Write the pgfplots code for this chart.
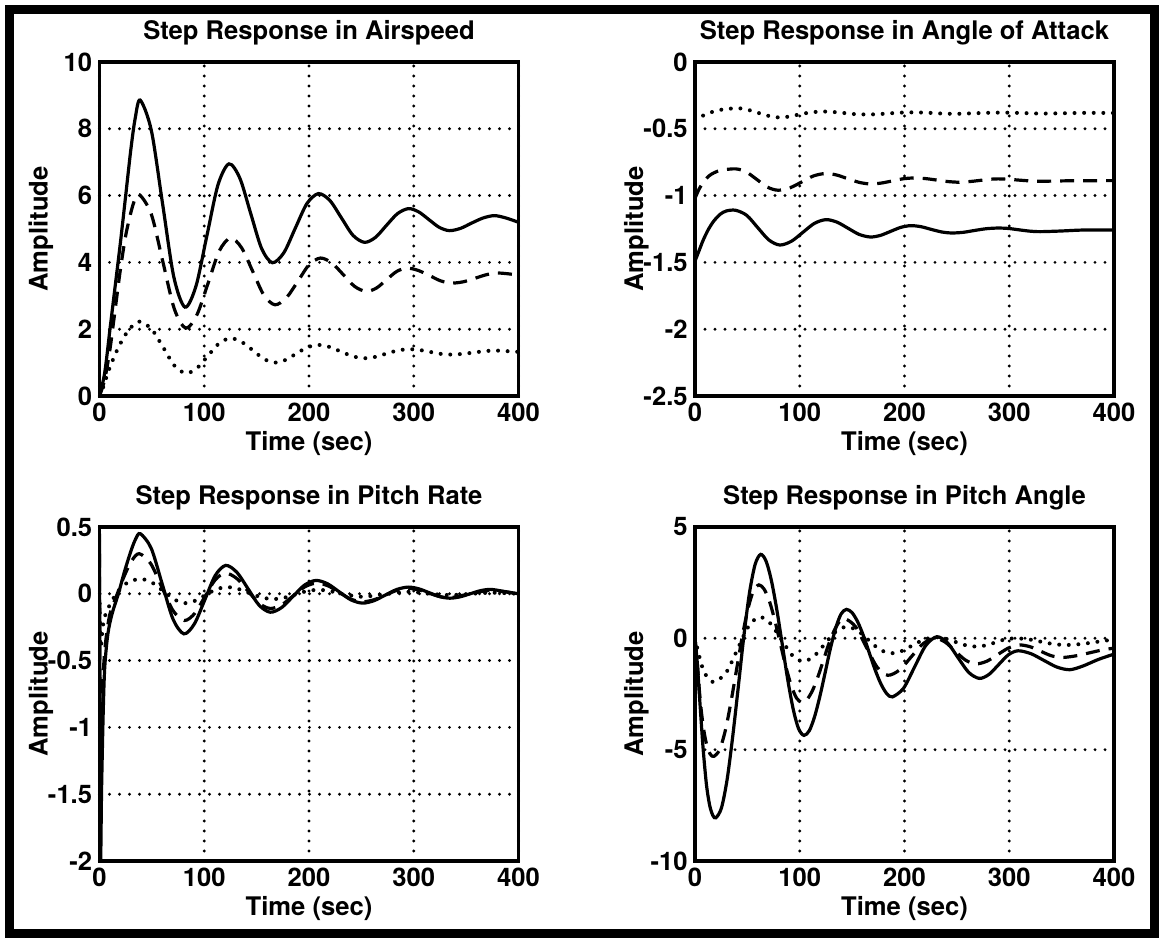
\documentclass[border=0pt]{standalone}
\usepackage{fontspec}
\setmainfont{TeX Gyre Heros}
\usepackage{pgfplots}
\pgfplotsset{compat=1.18}

\pgfplotsset{
  matlab/.style={
    width=209.5pt, height=167pt, scale only axis,
    xmin=0, xmax=400, xtick={0,100,200,300,400},
    axis line style={line width=1.6pt},
    grid=major,
    major grid style={black, line width=1.6pt, dash pattern=on 0pt off 5pt, line cap=round},
    major tick length=0pt,
    /pgf/number format/assume math mode=true,
    tick label style={font=\fontsize{12.8}{14}\selectfont\bfseries},
    label style={font=\fontsize{12.8}{14}\selectfont\bfseries},
    every axis title/.style={font=\fontsize{12.8}{14}\selectfont\bfseries, at={(0.5,1)}, anchor=base, yshift=11.25pt, inner sep=0pt},
    xlabel style={at={(0.5,0)}, anchor=base, yshift=-27.5pt, inner sep=0pt},
    ylabel style={at={(-0.1241,0.5)}, anchor=base, inner sep=0pt},
    xticklabel style={anchor=base, yshift=-12.8pt, inner sep=0pt},
    yticklabel style={anchor=east, xshift=-3.5pt, inner sep=0pt},
    xlabel={Time (sec)}, ylabel={Amplitude},
    every axis plot/.append style={black, line width=1.6pt, smooth, no marks},
  },
  dash/.style={dash pattern=on 7pt off 4.5pt},
  dots/.style={line width=2pt, dash pattern=on 0pt off 4.8pt, line cap=round},
}

\begin{document}
\begin{tikzpicture}
\useasboundingbox (0,0) rectangle (582pt,470pt);
\fill[white] (0,0) rectangle (582pt,470pt);
\draw[line width=4.5pt] (4.75pt,3.25pt) rectangle (577.25pt,465.25pt);

% airspeed
\begin{axis}[matlab, at={(49.75pt,272pt)}, anchor=south west,
  title={Step Response in Airspeed}, ymin=0, ymax=10, ytick={0,2,4,6,8,10}]
\addplot[solid] coordinates {(0,0) (5,0.7) (10,2.0) (15,3.3) (20,4.6) (25,6.0) (30,7.4) (34,8.3) (38.8,8.86) (49.5,7.95) (60.2,5.76) (70.9,3.57) (81.6,2.66) (92.1,3.29) (102.6,4.81) (113.1,6.32) (123.6,6.95) (134,6.52) (144.3,5.47) (154.7,4.42) (165,3.99) (176,4.29) (187,5.03) (198,5.76) (209,6.06) (220,5.85) (231,5.33) (242,4.81) (253,4.6) (263.5,4.75) (274,5.11) (284.5,5.46) (295,5.61) (304.8,5.51) (314.5,5.28) (324.3,5.05) (334,4.95) (344.8,5.02) (355.5,5.18) (366.3,5.33) (377,5.4) (388,5.33) (400,5.2)};
\addplot[dash] coordinates {(0,0) (5,0.5) (10,1.4) (15,2.6) (20,3.8) (25,4.8) (30,5.5) (34,5.9) (38.5,6.02) (49.5,5.44) (60.4,4.03) (71.4,2.61) (82.3,2.03) (93,2.43) (103.7,3.38) (114.3,4.34) (125,4.73) (135.6,4.44) (146.3,3.73) (156.9,3.02) (167.5,2.73) (178.4,2.94) (189.3,3.43) (200.1,3.93) (211,4.13) (221.9,3.98) (232.8,3.63) (243.6,3.28) (254.5,3.13) (264.3,3.23) (274,3.48) (283.8,3.73) (293.5,3.83) (304.1,3.76) (314.8,3.61) (325.4,3.45) (336,3.38) (347.5,3.42) (359,3.53) (370.5,3.64) (382,3.68) (400,3.62)};
\addplot[dots] coordinates {(0,0) (4,0.3) (8,0.7) (13,1.1) (18,1.45) (24,1.8) (30,2.05) (34,2.17) (39,2.23) (49.8,2.0) (60.7,1.46) (71.5,0.91) (82.3,0.68) (93,0.83) (103.7,1.21) (114.3,1.58) (125,1.73) (135.6,1.62) (146.3,1.37) (156.9,1.11) (167.5,1.0) (177.7,1.08) (187.9,1.27) (198.1,1.45) (208.3,1.53) (219.4,1.47) (230.5,1.33) (241.6,1.19) (252.7,1.13) (263.3,1.17) (273.9,1.27) (284.4,1.36) (295,1.4) (305,1.38) (315.5,1.32) (326,1.26) (336,1.24) (346.5,1.26) (357,1.3) (367.5,1.34) (378,1.36) (400,1.32)};
\end{axis}

% angle of attack
\begin{axis}[matlab, at={(347.5pt,272pt)}, anchor=south west,
  title={Step Response in Angle of Attack}, ymin=-2.5, ymax=0, ytick={-2.5,-2,-1.5,-1,-0.5,0}]
\addplot[solid] coordinates {(0,-1.49) (4,-1.41) (8,-1.33) (13,-1.25) (18,-1.19) (24,-1.14) (30,-1.115) (38.8,-1.11) (49.4,-1.148) (59.9,-1.24) (70.5,-1.332) (81,-1.37) (92,-1.342) (103,-1.275) (114,-1.208) (125,-1.18) (135.6,-1.199) (146.2,-1.245) (156.8,-1.291) (167.4,-1.31) (177,-1.298) (186.7,-1.268) (196.4,-1.238) (206,-1.225) (215.8,-1.233) (225.5,-1.253) (235.3,-1.272) (245,-1.28) (256,-1.275) (267,-1.261) (278,-1.248) (289,-1.243) (299,-1.246) (309,-1.256) (319.4,-1.266) (329.5,-1.27) (350,-1.265) (370,-1.258) (400,-1.258)};
\addplot[dash] coordinates {(0,-1.02) (4,-0.95) (8,-0.9) (13,-0.855) (18,-0.83) (25,-0.81) (38.8,-0.80) (48.9,-0.823) (59.1,-0.88) (69.2,-0.937) (79.3,-0.96) (90.6,-0.942) (101.9,-0.898) (113.1,-0.853) (124.4,-0.835) (135.2,-0.846) (145.9,-0.874) (156.7,-0.901) (167.4,-0.913) (178,-0.906) (188.5,-0.89) (199,-0.874) (209.7,-0.868) (220.3,-0.873) (230.9,-0.884) (241.4,-0.895) (252,-0.9) (261,-0.896) (270.5,-0.888) (280,-0.879) (289,-0.875) (299,-0.878) (309,-0.884) (319.4,-0.89) (329.5,-0.893) (360,-0.889) (400,-0.888)};
\addplot[dots] coordinates {(0,-0.44) (8,-0.40) (16,-0.375) (26,-0.356) (36,-0.348) (44,-0.348) (54,-0.365) (64,-0.39) (74,-0.41) (84,-0.415) (95,-0.40) (106,-0.383) (118,-0.372) (128,-0.372) (140,-0.38) (152,-0.39) (166,-0.393) (180,-0.388) (194,-0.38) (208,-0.377) (222,-0.38) (236,-0.386) (250,-0.388) (266,-0.384) (282,-0.38) (296,-0.379) (312,-0.382) (330,-0.386) (350,-0.384) (372,-0.381) (400,-0.382)};
\end{axis}

% pitch rate
\begin{axis}[matlab, at={(49.75pt,39.5pt)}, anchor=south west,
  title={Step Response in Pitch Rate}, ymin=-2, ymax=0.5, ytick={-2,-1.5,-1,-0.5,0,0.5}]
\addplot[solid] coordinates {(0,0.45) (0.8,-1.98) (2,-1.45) (3.5,-0.9) (5,-0.55) (8,-0.3) (12,-0.15) (18,0) (24,0.17) (30,0.32) (34.5,0.41) (39,0.45) (49.4,0.34) (59.8,0.075) (70.2,-0.19) (80.6,-0.30) (90.6,-0.225) (100.6,-0.044) (110.5,0.137) (120.5,0.2125) (131.1,0.161) (141.8,0.038) (152.4,-0.086) (163,-0.138) (173.9,-0.103) (184.8,-0.019) (195.7,0.065) (206.6,0.10) (217.7,0.075) (228.8,0.015) (239.9,-0.045) (251,-0.07) (261.9,-0.052) (272.8,-0.01) (283.7,0.032) (294.6,0.05) (304.5,0.038) (314.5,0.009) (324.4,-0.02) (334.3,-0.033) (344.1,-0.023) (353.9,0) (363.6,0.023) (373.4,0.033) (386,0.018) (400,0.0)};
\addplot[dash] coordinates {(0,0.3) (0.8,-1.3) (2,-0.95) (3.5,-0.6) (6,-0.35) (10,-0.15) (17,0) (24,0.14) (31,0.25) (38,0.30) (48.8,0.227) (59.5,0.05) (70.3,-0.127) (81,-0.20) (90.8,-0.148) (100.5,-0.023) (110.3,0.103) (120,0.155) (130.8,0.116) (141.5,0.023) (152.3,-0.071) (163,-0.11) (174,-0.082) (185,-0.015) (196,0.052) (207,0.08) (218,0.06) (229,0.01) (240,-0.04) (251,-0.06) (261.9,-0.045) (272.8,-0.01) (283.7,0.025) (294.6,0.04) (304.5,0.03) (314.5,0.005) (324.4,-0.02) (334.3,-0.03) (353.9,0) (373.4,0.025) (400,0)};
\addplot[dots] coordinates {(0,0) (1,-0.4) (4,-0.2) (10,-0.08) (18,0.02) (28,0.09) (40,0.11) (50,0.085) (61,0.02) (72,-0.045) (82,-0.07) (92,-0.05) (102,-0.005) (112,0.035) (122,0.05) (133,0.035) (143,0.005) (154,-0.025) (165,-0.04) (176,-0.03) (187,-0.005) (198,0.02) (209,0.03) (220,0.02) (231,0.0) (242,-0.015) (253,-0.022) (275,0) (296,0.015) (315,0) (335,-0.01) (355,0) (375,0.008) (400,0)};
\end{axis}

% pitch angle
\begin{axis}[matlab, at={(347.5pt,39.5pt)}, anchor=south west,
  title={Step Response in Pitch Angle}, ymin=-10, ymax=5, ytick={-10,-5,0,5}]
\addplot[solid] coordinates {(0,0) (2,-1.0) (4,-2.4) (6,-3.8) (8,-5.1) (11,-6.6) (14,-7.5) (17,-7.95) (20,-8.06) (25.3,-7.61) (30.7,-6.33) (36,-4.41) (41.4,-2.15) (46.7,0.12) (52,2.04) (57.4,3.32) (62.7,3.77) (67.9,3.46) (73,2.58) (78.2,1.26) (83.4,-0.3) (88.5,-1.85) (93.7,-3.17) (98.8,-4.05) (104,-4.36) (109.1,-4.15) (114.1,-3.53) (119.2,-2.61) (124.3,-1.53) (129.3,-0.45) (134.4,0.47) (139.4,1.09) (144.5,1.30) (150,1.15) (155.5,0.72) (161,0.09) (166.5,-0.67) (172,-1.42) (177.5,-2.05) (183,-2.48) (188.5,-2.63) (199.1,-2.24) (209.7,-1.28) (220.2,-0.33) (230.8,0.07) (241,-0.2) (251.1,-0.87) (261.3,-1.53) (271.4,-1.80) (280.7,-1.62) (289.9,-1.18) (299.2,-0.74) (308.4,-0.56) (320.7,-0.69) (333,-0.99) (345.4,-1.29) (357.7,-1.41) (370,-1.25) (385,-0.95) (400,-0.71)};
\addplot[dash] coordinates {(0,0) (2,-1.0) (5,-2.8) (8,-4.0) (11,-4.75) (14.5,-5.2) (18,-5.3) (23.4,-5.01) (28.8,-4.17) (34.1,-2.92) (39.5,-1.45) (44.9,0.02) (50.3,1.27) (55.6,2.11) (61,2.4) (66.1,2.2) (71.3,1.63) (76.4,0.77) (81.5,-0.24) (86.6,-1.25) (91.8,-2.11) (96.9,-2.68) (102,-2.88) (107.1,-2.74) (112.3,-2.33) (117.4,-1.72) (122.5,-1.0) (127.6,-0.27) (132.8,0.34) (137.9,0.75) (143,0.89) (153.3,0.52) (163.5,-0.39) (173.8,-1.29) (184,-1.66) (195.3,-1.42) (206.5,-0.83) (217.8,-0.24) (229,0.0) (238.8,-0.17) (248.5,-0.58) (258.3,-0.98) (268,-1.15) (278.5,-1.03) (289,-0.73) (299.5,-0.43) (310,-0.30) (320,-0.38) (330,-0.58) (340,-0.78) (350,-0.86) (362,-0.80) (375,-0.67) (388,-0.53) (400,-0.44)};
\addplot[dots] coordinates {(0,0) (3,-0.6) (7,-1.3) (11,-1.7) (15,-1.9) (19.5,-1.95) (30,-1.52) (40.5,-0.5) (51,0.53) (61.5,0.96) (71.9,0.67) (82.3,-0.04) (92.6,-0.75) (103,-1.04) (113.4,-0.81) (123.8,-0.26) (134.1,0.29) (144.5,0.52) (155.1,0.35) (165.7,-0.08) (176.2,-0.5) (186.8,-0.67) (197.4,-0.57) (207.9,-0.31) (218.5,-0.06) (229,0.05) (238.8,-0.01) (248.5,-0.16) (258.3,-0.31) (268,-0.37) (277.3,-0.32) (286.5,-0.19) (295.8,-0.05) (305,0.0) (317.5,-0.04) (330,-0.15) (342.5,-0.26) (355,-0.3) (370,-0.25) (385,-0.15) (400,-0.05)};
\end{axis}
\end{tikzpicture}
\end{document}
